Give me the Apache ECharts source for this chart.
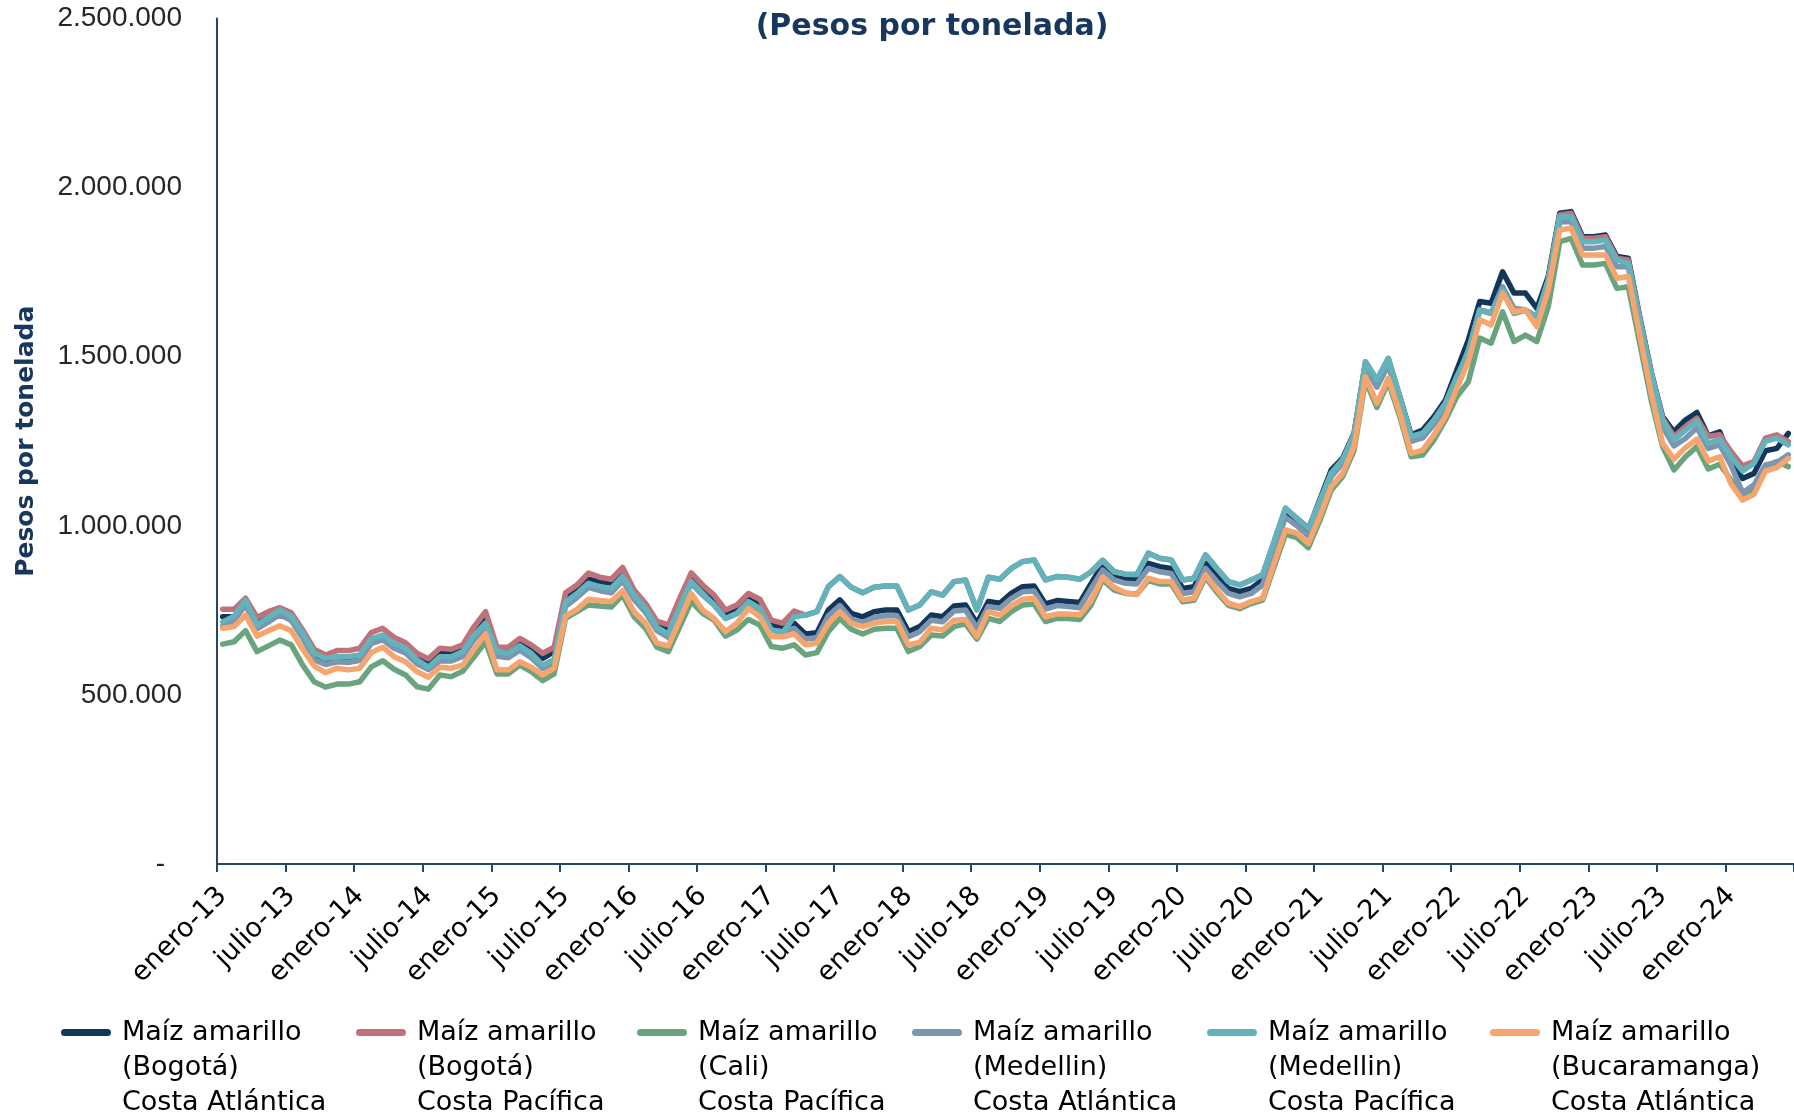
<!DOCTYPE html>
<html>
<head>
<meta charset="utf-8">
<script src="https://cdn.jsdelivr.net/npm/echarts@6/dist/echarts.min.js"></script>
<style>html,body{margin:0;padding:0;background:#fff}#chart{width:1794px;height:1119px}</style>
</head>
<body>
<div id="chart"></div>
<script>
const monthNames = ['enero','febrero','marzo','abril','mayo','junio','julio','agosto','septiembre','octubre','noviembre','diciembre'];
const yearLabels = ['13','14','15','16','17','18','19','20','21','22','23','24'];
const monthCount = 138; // enero-13 .. junio-24
const categories = [];
for (let i = 0; i < monthCount; i++) {
  categories.push(monthNames[i % 12] + '-' + yearLabels[Math.floor(i / 12)]);
}

const yTicks = [0, 500000, 1000000, 1500000, 2000000, 2500000];

const seriesNames = [
  'Maíz amarillo (Bogotá) Costa Atlántica',
  'Maíz amarillo (Bogotá) Costa Pacífica',
  'Maíz amarillo (Cali) Costa Pacífica',
  'Maíz amarillo (Medellin) Costa Atlántica',
  'Maíz amarillo (Medellin) Costa Pacífica',
  'Maíz amarillo (Bucaramanga) Costa Atlántica'
];
const legendLines = [
  'Maíz amarillo\n(Bogotá)\nCosta Atlántica',
  'Maíz amarillo\n(Bogotá)\nCosta Pacífica',
  'Maíz amarillo\n(Cali)\nCosta Pacífica',
  'Maíz amarillo\n(Medellin)\nCosta Atlántica',
  'Maíz amarillo\n(Medellin)\nCosta Pacífica',
  'Maíz amarillo\n(Bucaramanga)\nCosta Atlántica'
];

const bogotaAtlantica = [
731000,731000,771000,712000,729000,735000,725000,672000,613000,598000,
604000,601000,608000,662000,669000,648000,635000,613000,598000,628000,
623000,635000,690000,731000,628000,628000,652000,632000,608000,628000,
790000,810000,842000,835000,830000,854000,800000,761000,710000,697000,
771000,845000,810000,781000,741000,756000,786000,766000,707000,702000,
712000,680000,684000,751000,781000,741000,731000,746000,751000,751000,
687000,702000,736000,731000,763000,766000,712000,776000,771000,800000,
820000,822000,769000,779000,776000,773000,830000,886000,852000,842000,
840000,889000,879000,874000,815000,820000,889000,850000,815000,805000,
815000,840000,948000,1042000,1017000,988000,1076000,1165000,1200000,1273000,
1480000,1421000,1485000,1382000,1269000,1283000,1323000,1372000,1461000,1549000,
1663000,1658000,1751000,1688000,1688000,1643000,1737000,1924000,1929000,1855000,
1855000,1860000,1796000,1791000,1618000,1456000,1323000,1278000,1313000,1335000,
1266000,1278000,1195000,1140000,1155000,1222000,1229000,1273000];

const bogotaPacifica = [
753000,753000,786000,729000,746000,758000,743000,692000,635000,618000,
631000,631000,638000,684000,697000,670000,654000,623000,607000,638000,
635000,648000,702000,746000,641000,641000,667000,648000,623000,641000,
802000,825000,860000,848000,842000,877000,810000,771000,718000,707000,
786000,861000,825000,795000,751000,766000,800000,783000,721000,712000,
748000,736000,746000,820000,850000,818000,802000,818000,822000,822000,
751000,766000,805000,795000,835000,840000,751000,848000,842000,874000,
894000,899000,840000,850000,848000,842000,864000,898000,864000,857000,
856000,919000,904000,899000,840000,845000,914000,874000,835000,825000,
840000,855000,953000,1052000,1022000,993000,1071000,1155000,1195000,1269000,
1485000,1431000,1495000,1382000,1264000,1273000,1313000,1362000,1441000,1510000,
1638000,1628000,1697000,1628000,1638000,1618000,1727000,1919000,1924000,1850000,
1850000,1855000,1791000,1786000,1614000,1453000,1318000,1264000,1293000,1318000,
1264000,1269000,1219000,1177000,1190000,1259000,1269000,1249000];

const caliPacifica = [
650000,657000,690000,628000,645000,662000,648000,588000,539000,523000,
532000,532000,539000,583000,601000,576000,559000,524000,517000,559000,
554000,570000,613000,657000,562000,562000,588000,569000,542000,562000,
726000,746000,766000,763000,760000,795000,731000,697000,641000,628000,
702000,776000,741000,721000,674000,692000,723000,707000,643000,638000,
648000,618000,625000,687000,726000,694000,680000,694000,697000,697000,
628000,643000,677000,674000,702000,710000,665000,726000,717000,746000,
766000,769000,717000,726000,726000,723000,766000,840000,810000,800000,
798000,838000,828000,828000,775000,780000,848000,803000,765000,755000,
770000,780000,878000,975000,965000,935000,1015000,1105000,1145000,1222000,
1430000,1350000,1425000,1323000,1204000,1209000,1254000,1313000,1382000,1426000,
1555000,1540000,1633000,1545000,1564000,1545000,1648000,1840000,1850000,1771000,
1771000,1776000,1702000,1707000,1540000,1372000,1234000,1165000,1204000,1234000,
1168000,1182000,1135000,1093000,1108000,1175000,1190000,1175000];

const medellinAtlantica = [
704000,720000,766000,695000,716000,738000,720000,668000,604000,590000,
598000,596000,602000,652000,663000,638000,624000,592000,575000,600000,
600000,614000,664000,700000,614000,610000,632000,610000,578000,592000,
762000,788000,818000,808000,802000,838000,782000,744000,690000,670000,
756000,830000,795000,766000,726000,741000,771000,751000,692000,687000,
697000,665000,669000,734000,764000,724000,714000,729000,734000,734000,
672000,687000,721000,716000,748000,751000,697000,761000,756000,785000,
805000,807000,754000,764000,761000,758000,815000,869000,840000,830000,
828000,874000,864000,859000,800000,805000,874000,835000,800000,790000,
800000,825000,930000,1025000,1000000,970000,1058000,1145000,1185000,1260000,
1470000,1410000,1475000,1365000,1250000,1260000,1300000,1350000,1435000,1520000,
1638000,1630000,1707000,1643000,1638000,1618000,1707000,1899000,1899000,1821000,
1821000,1826000,1766000,1766000,1589000,1426000,1293000,1236000,1258000,1290000,
1229000,1239000,1178000,1098000,1121000,1180000,1187000,1210000];

const medellinPacifica = [
716000,733000,780000,707000,729000,751000,733000,682000,623000,608000,
613000,613000,618000,666000,677000,652000,638000,604000,582000,613000,
613000,628000,677000,712000,628000,623000,645000,623000,588000,604000,
775000,800000,830000,820000,815000,851000,795000,756000,700000,680000,
761000,835000,800000,766000,726000,741000,776000,756000,692000,684000,
731000,736000,746000,820000,850000,818000,802000,818000,822000,822000,
751000,766000,805000,795000,835000,840000,751000,848000,842000,874000,
894000,899000,840000,850000,848000,842000,864000,898000,864000,857000,
856000,919000,904000,899000,840000,845000,914000,874000,835000,825000,
840000,855000,953000,1052000,1022000,993000,1071000,1155000,1195000,1269000,
1485000,1431000,1495000,1382000,1264000,1273000,1313000,1362000,1441000,1510000,
1638000,1628000,1697000,1628000,1638000,1618000,1727000,1914000,1914000,1840000,
1840000,1845000,1786000,1776000,1609000,1451000,1313000,1254000,1283000,1310000,
1244000,1256000,1204000,1162000,1185000,1250000,1259000,1239000];

const bucaramangaAtlantica = [
697000,702000,736000,674000,690000,704000,690000,635000,586000,566000,
579000,574000,579000,625000,641000,613000,598000,569000,552000,582000,
579000,588000,635000,680000,574000,574000,598000,582000,559000,579000,
733000,753000,783000,779000,776000,808000,746000,712000,653000,645000,
721000,800000,751000,726000,687000,712000,756000,731000,672000,672000,
680000,648000,653000,712000,746000,712000,702000,712000,717000,717000,
648000,656000,697000,692000,721000,723000,672000,746000,736000,763000,
783000,786000,731000,739000,739000,736000,780000,848000,818000,802000,
797000,845000,835000,835000,781000,786000,855000,810000,771000,761000,
776000,786000,889000,988000,978000,948000,1027000,1116000,1155000,1234000,
1441000,1362000,1436000,1333000,1214000,1224000,1269000,1323000,1407000,1485000,
1609000,1594000,1688000,1633000,1638000,1589000,1697000,1875000,1880000,1801000,
1801000,1801000,1732000,1737000,1564000,1392000,1244000,1197000,1231000,1256000,
1192000,1204000,1123000,1076000,1093000,1162000,1172000,1199000];

const seriesData = [bogotaAtlantica, bogotaPacifica, caliPacifica, medellinAtlantica, medellinPacifica, bucaramangaAtlantica];
const colors = ['#12365A', '#C0727A', '#6AA47F', '#7B96AE', '#62B3BB', '#F6A56E'];
const legendLeft = [61, 356, 637, 912, 1207, 1490];

const axisColor = '#24476B';
// legend marker: rounded bar aligned with the first text line (box 50 x 105)
const legendIconPath = 'path://M0,0H0.05V0.05H0Z M3.5,14H46.5A3.5,3.5 0 0 1 46.5,21H3.5A3.5,3.5 0 0 1 3.5,14Z M49.95,104.95H50V105H49.95Z';

function fmtThousands(v) {
  return String(v).replace(/\B(?=(\d{3})+(?!\d))/g, '.');
}

const chart = echarts.init(document.getElementById('chart'), null, {renderer: 'canvas'});

const legends = seriesNames.map((n, i) => ({
  data: [n],
  left: legendLeft[i],
  top: 1015,
  padding: 0,
  orient: 'horizontal',
  icon: legendIconPath,
  symbolKeepAspect: false,
  itemWidth: 50,
  itemHeight: 105,
  selectedMode: false,
  formatter: () => legendLines[i],
  textStyle: {
    fontFamily: 'DejaVu Sans',
    fontSize: 27,
    lineHeight: 35,
    color: '#000000',
    padding: [0, 0, 0, 6]
  }
}));

const option = {
  animation: false,
  backgroundColor: '#ffffff',
  title: {
    text: '(Pesos por tonelada)',
    left: 932,
    top: 12,
    padding: 0,
    textAlign: 'center',
    textStyle: {fontFamily: 'DejaVu Sans', fontWeight: 'bold', fontSize: 30, color: '#17375E'}
  },
  grid: {left: 217, top: 18.5, width: 1584, height: 845.5, containLabel: false},
  legend: legends,
  xAxis: {
    type: 'category',
    data: categories,
    boundaryGap: true,
    axisLine: {lineStyle: {color: axisColor, width: 2}},
    axisTick: {show: true, interval: 5, length: 8, lineStyle: {color: axisColor, width: 2}},
    axisLabel: {interval: 5, rotate: 45, margin: 28, fontFamily: 'DejaVu Sans', fontSize: 27, color: '#000000'},
    splitLine: {show: false}
  },
  yAxis: {
    type: 'value',
    min: yTicks[0],
    max: yTicks[yTicks.length - 1],
    interval: 500000,
    name: 'Pesos por tonelada',
    nameLocation: 'middle',
    nameGap: 178,
    nameTextStyle: {fontFamily: 'DejaVu Sans', fontWeight: 'bold', fontSize: 25, color: '#17375E'},
    axisLine: {show: true, lineStyle: {color: axisColor, width: 2}},
    axisTick: {show: false},
    splitLine: {show: false},
    axisLabel: {
      margin: 35,
      fontFamily: 'Liberation Sans',
      fontSize: 28,
      color: '#262626',
      formatter: v => v === 0 ? '{d|-}' : fmtThousands(v),
      rich: {d: {fontFamily: 'Liberation Sans', fontSize: 28, color: '#262626', padding: [0, 17, 0, 0]}}
    }
  },
  series: seriesNames.map((n, i) => ({
    name: n,
    type: 'line',
    data: seriesData[i],
    showSymbol: false,
    symbol: 'none',
    color: colors[i],
    lineStyle: {width: 5.5, color: colors[i], join: 'round', cap: 'round'},
    itemStyle: {color: colors[i]},
    emphasis: {disabled: true},
    z: 2 + i
  }))
};

chart.setOption(option);
</script>
</body>
</html>
